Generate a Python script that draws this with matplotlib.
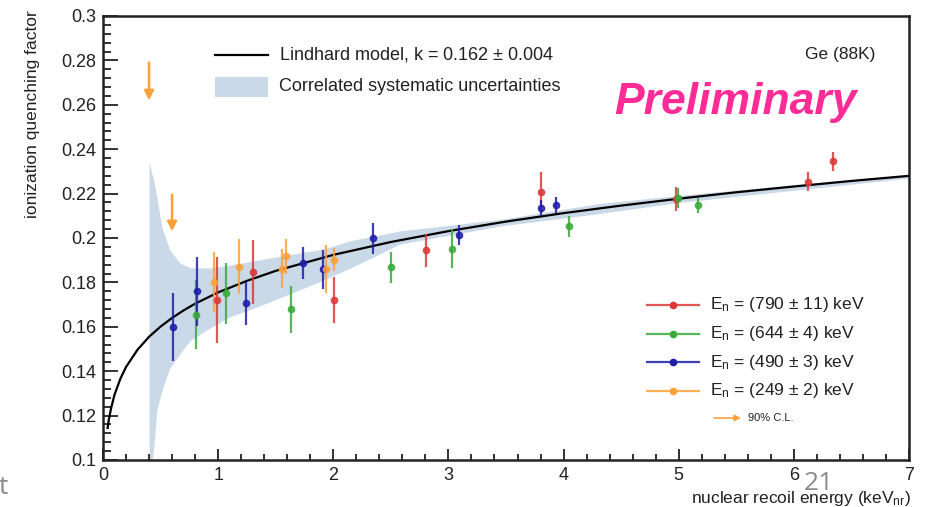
import matplotlib
matplotlib.use('Agg')
import matplotlib.pyplot as plt
from matplotlib.patches import Rectangle
from matplotlib.ticker import MultipleLocator, FuncFormatter

plt.rcParams['font.family'] = ['Liberation Sans', 'DejaVu Sans']
plt.rcParams['mathtext.fontset'] = 'custom'
plt.rcParams['mathtext.rm'] = 'Liberation Sans'
plt.rcParams['mathtext.it'] = 'Liberation Sans:italic'

# Lindhard model curve
model_x = [0.04, 0.05, 0.07, 0.1, 0.15, 0.2, 0.3, 0.4, 0.5, 0.6, 0.7, 0.8, 1.0,
           1.25, 1.5, 2.0, 2.5, 3.0, 3.5, 4.0, 4.5, 5.0, 5.5, 6.0, 6.5, 7.0]
model_y = [0.1144, 0.1179, 0.1233, 0.1294, 0.1365, 0.1419, 0.1497, 0.1555, 0.1601,
           0.1640, 0.1674, 0.1704, 0.1755, 0.1807, 0.1852, 0.1924, 0.1982, 0.2031, 0.2074,
           0.2112, 0.2146, 0.2177, 0.2206, 0.2232, 0.2257, 0.2280]

# correlated systematic band
band_x  = [0.40, 0.44, 0.467, 0.51, 0.58, 0.67, 0.76, 0.93, 1.10, 1.34, 1.63, 1.91, 2.15,
           2.58, 3.45, 4.32, 5.0, 6.0, 7.0]
band_lo = [0.090, 0.105, 0.1225, 0.131, 0.1415, 0.148, 0.154, 0.1595, 0.1645, 0.169, 0.175,
           0.181, 0.1865, 0.1973, 0.2054, 0.2111, 0.2160, 0.2215, 0.2270]
band_hi = [0.234, 0.226, 0.2186, 0.2051, 0.1946, 0.1886, 0.1866, 0.1865, 0.1878, 0.190,
           0.1926, 0.195, 0.1988, 0.2032, 0.2084, 0.2156, 0.2192, 0.2240, 0.2285]

# data sets
red_x   = [0.988, 1.307, 2.003, 2.803, 3.80, 4.974, 6.119, 6.342]
red_y   = [0.1722, 0.1847, 0.1721, 0.1944, 0.2205, 0.2177, 0.2254, 0.2345]
red_e   = [0.0194, 0.0143, 0.0105, 0.0073, 0.0094, 0.0054, 0.0042, 0.0042]

green_x = [0.81, 1.07, 1.632, 2.501, 3.032, 4.049, 4.99, 5.165]
green_y = [0.1655, 0.1751, 0.1679, 0.1868, 0.1951, 0.2052, 0.2182, 0.2148]
green_e = [0.0155, 0.0138, 0.0105, 0.0070, 0.0088, 0.0049, 0.0045, 0.0034]

blue_x  = [0.61, 0.815, 1.238, 1.736, 1.907, 2.342, 3.09, 3.80, 3.936]
blue_y  = [0.1600, 0.1760, 0.1706, 0.1889, 0.1859, 0.1999, 0.2014, 0.2135, 0.2147]
blue_e  = [0.0153, 0.0156, 0.0098, 0.0072, 0.0087, 0.0070, 0.0045, 0.0036, 0.0036]

orange_x = [0.968, 1.177, 1.553, 1.59, 1.933, 2.003]
orange_y = [0.1803, 0.1871, 0.1862, 0.1917, 0.1860, 0.1903]
orange_e = [0.0135, 0.0123, 0.0088, 0.0077, 0.0108, 0.0050]

# 90% C.L. upper limits (orange)
lim_x   = [0.40, 0.60]
lim_top = [0.279, 0.2195]
lim_bot = [0.262, 0.2030]

series = [
    (red_x, red_y, red_e, '#dc3838', r'E$_{\rm n}$ = (790 $\pm$ 11) keV'),
    (green_x, green_y, green_e, '#3aaa3a', r'E$_{\rm n}$ = (644 $\pm$ 4) keV'),
    (blue_x, blue_y, blue_e, '#1e1eaa', r'E$_{\rm n}$ = (490 $\pm$ 3) keV'),
    (orange_x, orange_y, orange_e, '#fba13a', r'E$_{\rm n}$ = (249 $\pm$ 2) keV'),
]
orange = '#fba13a'
band_col = '#cad9e8'

W, H = 930, 507
fig = plt.figure(figsize=(W / 100, H / 100), dpi=100)
L, R, T, B = 103, 909, 16, 460
ax = fig.add_axes([L / W, 1 - B / H, (R - L) / W, (B - T) / H])


def axx(px):
    return (px - L) / (R - L)


def axy(py):
    return (B - py) / (B - T)


ax.fill_between(band_x, band_lo, band_hi, color=band_col, lw=0, zorder=1)
ax.plot(model_x, model_y, color='black', lw=1.6, zorder=3)

for xs, ys, es, c, lab in series:
    ax.errorbar(xs, ys, yerr=es, fmt='o', ms=4.5, color=c, ecolor=c,
                elinewidth=1.6, capsize=0, alpha=0.85, zorder=4)

for x, t, b in zip(lim_x, lim_top, lim_bot):
    ax.annotate('', xy=(x, b), xytext=(x, t),
                arrowprops=dict(arrowstyle='-|>', color=orange, lw=1.8,
                                mutation_scale=14, shrinkA=0, shrinkB=0), zorder=5)

ax.set_xlim(0, 7)
ax.set_ylim(0.1, 0.3)
ax.xaxis.set_major_locator(MultipleLocator(1))
ax.xaxis.set_minor_locator(MultipleLocator(0.2))
ax.yaxis.set_major_locator(MultipleLocator(0.02))
ax.yaxis.set_minor_locator(MultipleLocator(0.004))
ax.yaxis.set_major_formatter(FuncFormatter(lambda v, p: '%g' % round(v, 3)))
ax.tick_params(which='both', direction='in', top=False, right=False,
               labelsize=13, colors='#222222', width=1.3)
ax.tick_params(axis='y', which='major', length=11, pad=5)
ax.tick_params(axis='y', which='minor', length=6)
ax.tick_params(axis='x', which='major', length=8, pad=5)
ax.tick_params(axis='x', which='minor', length=4)
for s in ax.spines.values():
    s.set_linewidth(1.8)
    s.set_color('#222222')

ax.text(axx(33), axy(10), 'ionization quenching factor', rotation=90,
        ha='center', va='top', fontsize=12.5, color='#222222', transform=ax.transAxes)
ax.text(axx(911), axy(498), r'nuclear recoil energy (keV$_{\rm nr}$)', ha='right',
        va='center', fontsize=12.5, color='#222222', transform=ax.transAxes)

# legend (top)
ax.plot([axx(215), axx(268)], [axy(55)] * 2, color='black', lw=1.6,
        transform=ax.transAxes)
ax.text(axx(279), axy(55), r'Lindhard model, k = 0.162 $\pm$ 0.004', fontsize=13,
        va='center', color='#222222', transform=ax.transAxes)
ax.add_patch(Rectangle((axx(215), axy(97)), axx(268) - axx(215), axy(77) - axy(97),
                       color=band_col, lw=0, transform=ax.transAxes))
ax.text(axx(279), axy(87), 'Correlated systematic uncertainties', fontsize=13,
        va='center', color='#222222', transform=ax.transAxes)

ax.text(axx(875), axy(55), 'Ge (88K)', fontsize=12.5, ha='right', va='center',
        color='#222222', transform=ax.transAxes)
ax.text(axx(735), axy(103), 'Preliminary', fontsize=32, fontweight='bold',
        fontstyle='italic', color='#ff2b96', ha='center', va='center',
        transform=ax.transAxes)

# legend (data sets)
rows = [305, 333.5, 362, 391]
for (xs, ys, es, c, lab), py in zip(series, rows):
    ax.plot([axx(647), axx(699)], [axy(py)] * 2, color=c, lw=1.6, alpha=0.85,
            transform=ax.transAxes)
    ax.plot([axx(673)], [axy(py)], 'o', ms=4.5, color=c, transform=ax.transAxes)
    ax.text(axx(710), axy(py), lab, fontsize=12.5, va='center', color='#222222',
            transform=ax.transAxes)
ax.annotate('', xy=(axx(741), axy(418)), xytext=(axx(714), axy(418)),
            xycoords='axes fraction', textcoords='axes fraction',
            arrowprops=dict(arrowstyle='-|>', color=orange, lw=1.2,
                            mutation_scale=9, shrinkA=0, shrinkB=0))
ax.text(axx(748), axy(418), '90% C.L.', fontsize=8, va='center', color='#222222',
        transform=ax.transAxes)

# slide leftovers (page number sits on the axis title, as on the slide)
fig.text(-0.001, 1 - 487 / H, 't', fontsize=19, family='Open Sans', color='#8a8a8a',
         ha='left', va='center')
fig.text(819 / W, 1 - 483 / H, '21', fontsize=19, family='Open Sans', color='#8a8a8a',
         ha='center', va='center')

fig.savefig('out.png', dpi=100)
